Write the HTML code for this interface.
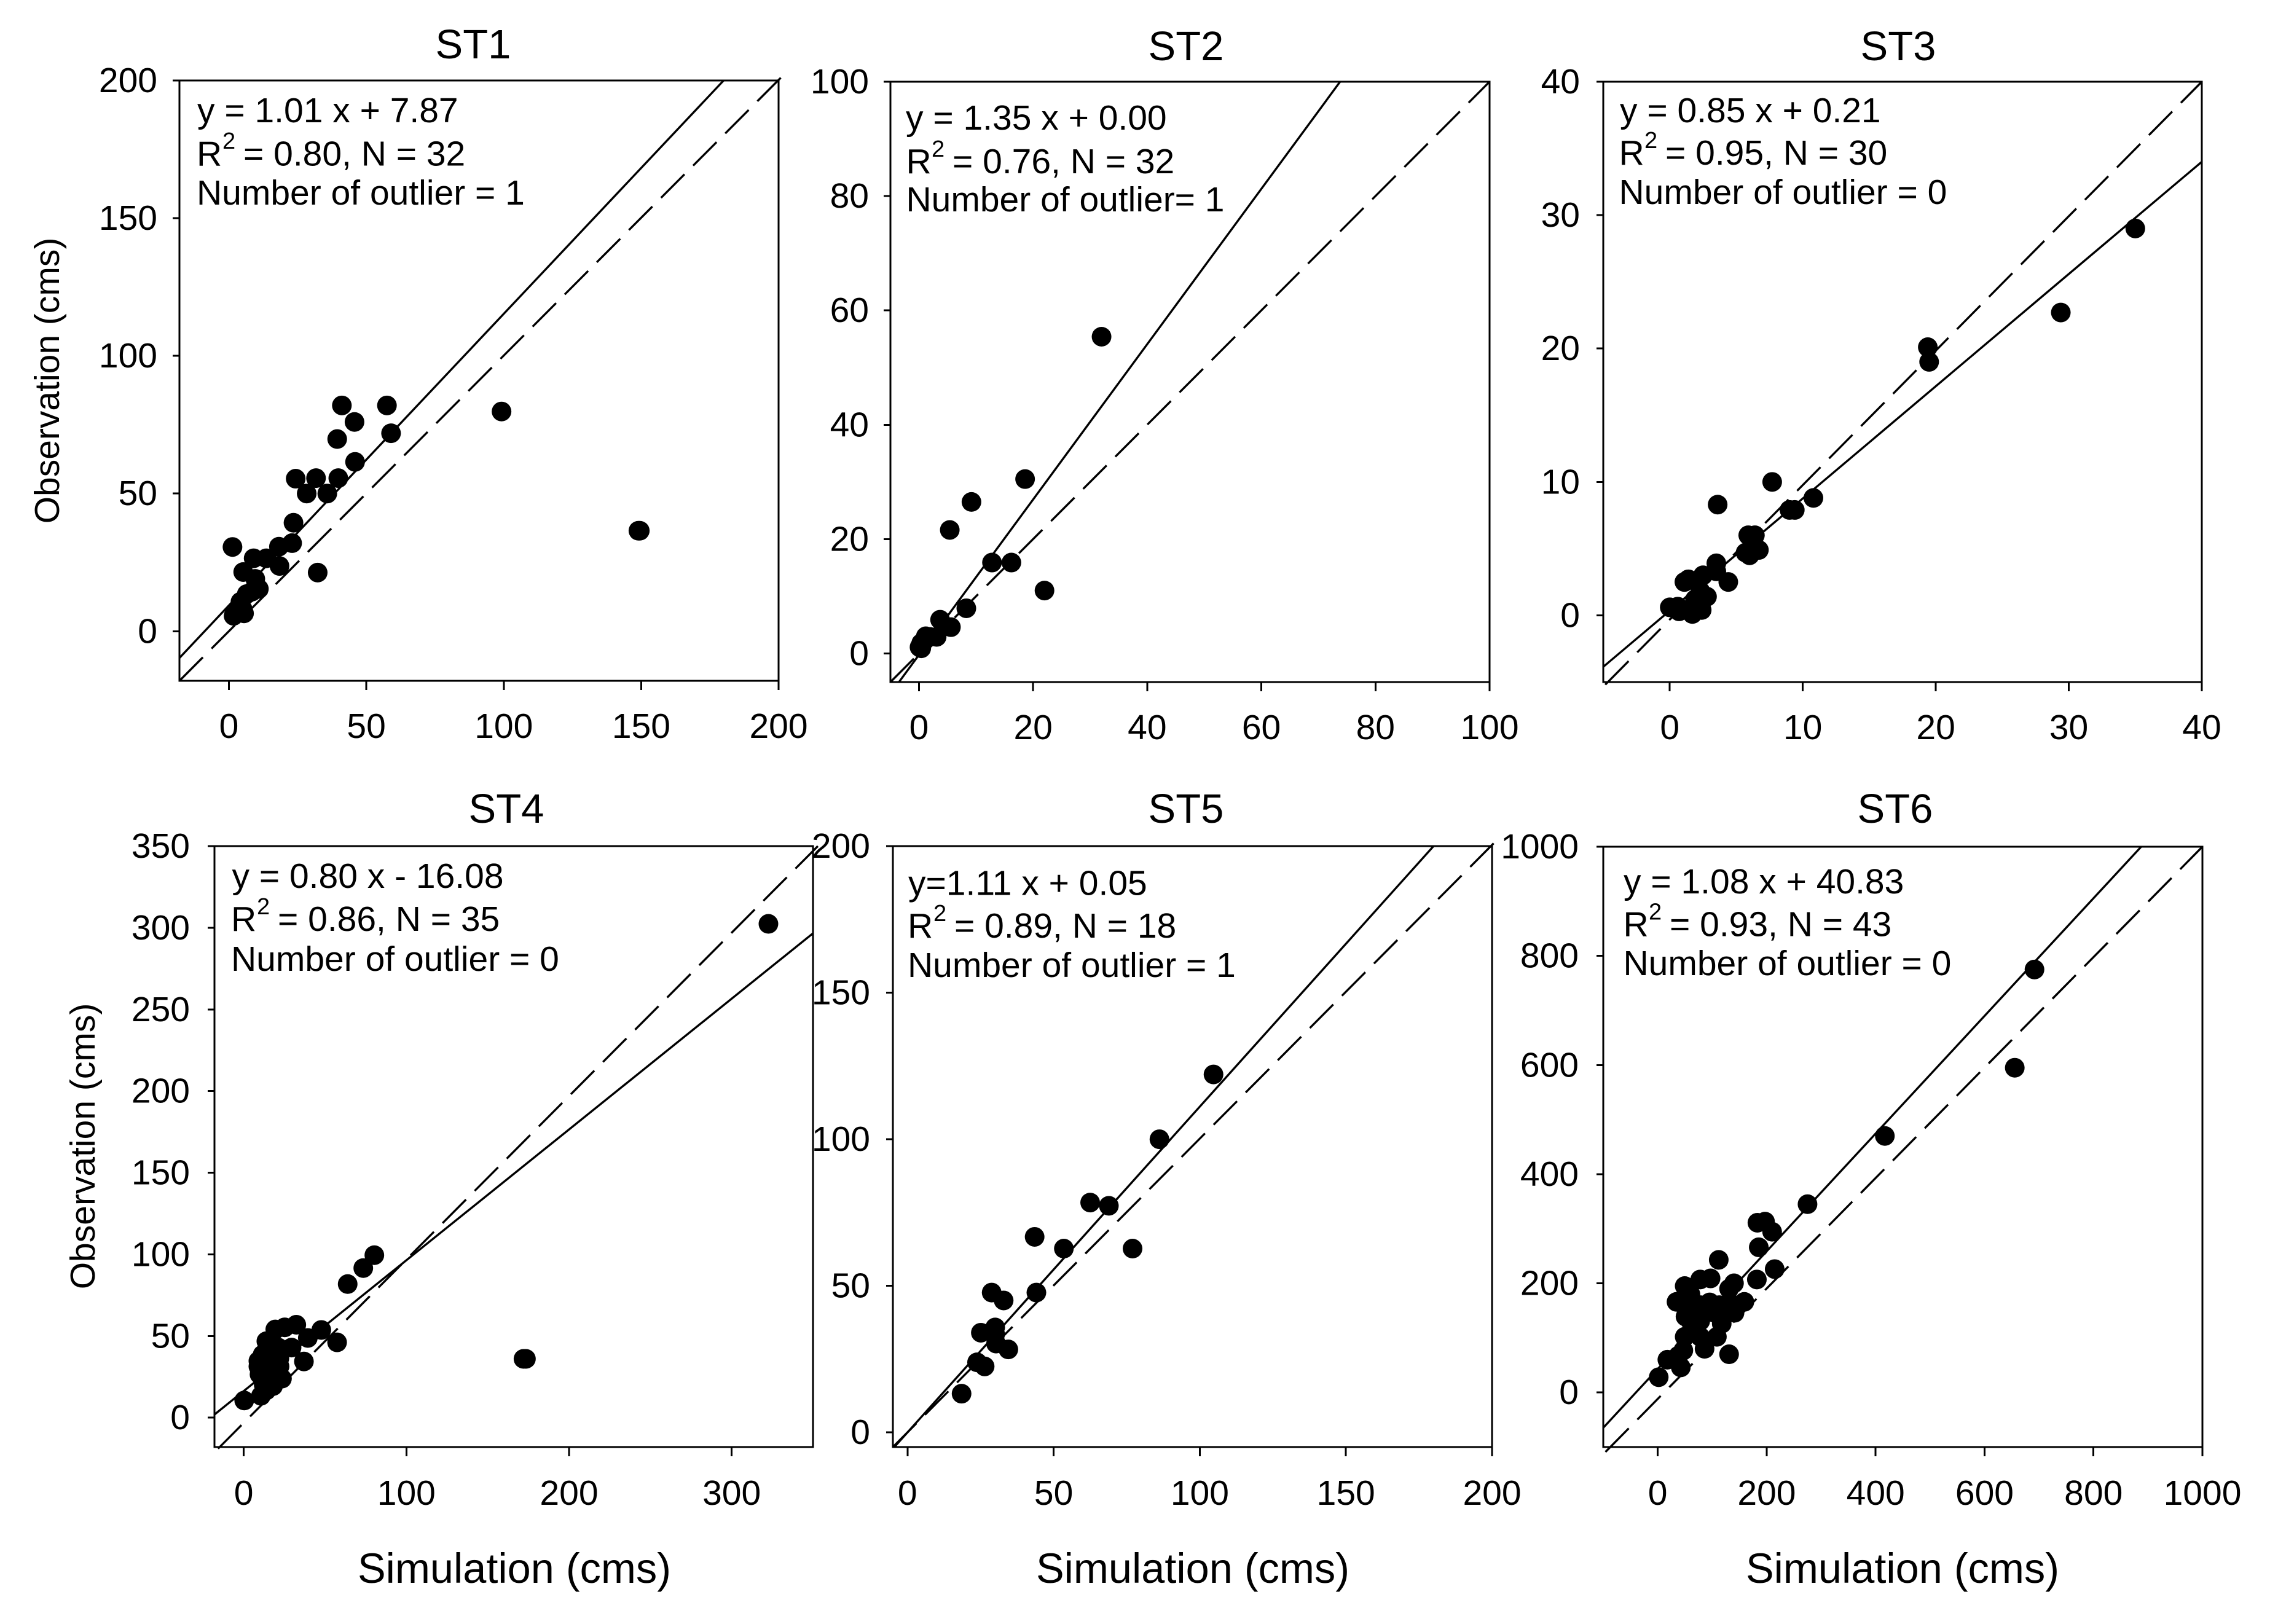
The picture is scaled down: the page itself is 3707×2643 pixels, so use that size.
<!DOCTYPE html>
<html lang="en">
<head>
<meta charset="utf-8">
<title>Simulation vs observation scatter plots ST1-ST6</title>
<style>
html,body{margin:0;padding:0;background:#fff;}
svg{display:block;}
text{font-family:"Liberation Sans",Arial,sans-serif;fill:#000;}
.tick{font-size:57px;}
.note{font-size:57px;}
.sup{font-size:38px;}
.title{font-size:67px;text-anchor:middle;}
.xtitle{font-size:68.5px;text-anchor:middle;}
.ytitle{font-size:57px;text-anchor:middle;}
</style>
</head>
<body>
<svg id="chart" xmlns="http://www.w3.org/2000/svg" width="3707" height="2643" viewBox="0 0 3707 2643">
<rect x="0" y="0" width="3707" height="2643" fill="#fff"/>

<g id="panel-st1">
<text class="title" x="770" y="95">ST1</text>
<text class="ytitle" transform="translate(96 619.5) rotate(-90)">Observation (cms)</text>
<text class="note" x="321" y="199">y = 1.01 x + 7.87</text>
<text class="note" x="320" y="269.5">R<tspan class="sup" x="362" y="242">2</tspan><tspan x="396" y="269.5">= 0.80, N = 32</tspan></text>
<text class="note" x="320" y="333">Number of outlier = 1</text>
</g>

<g id="panel-st2">
<text class="title" x="1930" y="98">ST2</text>
<text class="note" x="1474" y="211">y = 1.35 x + 0.00</text>
<text class="note" x="1474.5" y="282">R<tspan class="sup" x="1516" y="255">2</tspan><tspan x="1550" y="282">= 0.76, N = 32</tspan></text>
<text class="note" x="1474.5" y="344">Number of outlier= 1</text>
</g>

<g id="panel-st3">
<text class="title" x="3089" y="98">ST3</text>
<text class="note" x="2636" y="199">y = 0.85 x + 0.21</text>
<text class="note" x="2634.5" y="268">R<tspan class="sup" x="2676" y="241">2</tspan><tspan x="2710" y="268">= 0.95, N = 30</tspan></text>
<text class="note" x="2634.5" y="332">Number of outlier = 0</text>
</g>

<g id="panel-st4">
<text class="title" x="824" y="1339">ST4</text>
<text class="ytitle" transform="translate(154 1865.5) rotate(-90)">Observation (cms)</text>
<text class="xtitle" x="837" y="2576">Simulation (cms)</text>
<text class="note" x="377.5" y="1445">y = 0.80 x - 16.08</text>
<text class="note" x="376" y="1515">R<tspan class="sup" x="418" y="1488">2</tspan><tspan x="452" y="1515">= 0.86, N = 35</tspan></text>
<text class="note" x="376" y="1580">Number of outlier = 0</text>
</g>

<g id="panel-st5">
<text class="title" x="1930" y="1339">ST5</text>
<text class="xtitle" x="1941" y="2576">Simulation (cms)</text>
<text class="note" x="1478" y="1456.5">y=1.11 x + 0.05</text>
<text class="note" x="1477" y="1526">R<tspan class="sup" x="1519" y="1499">2</tspan><tspan x="1553" y="1526">= 0.89, N = 18</tspan></text>
<text class="note" x="1477" y="1590">Number of outlier = 1</text>
</g>

<g id="panel-st6">
<text class="title" x="3084" y="1339">ST6</text>
<text class="xtitle" x="3096" y="2576">Simulation (cms)</text>
<text class="note" x="2642" y="1454">y = 1.08 x + 40.83</text>
<text class="note" x="2641.5" y="1523.5">R<tspan class="sup" x="2683" y="1496.5">2</tspan><tspan x="2717" y="1523.5">= 0.93, N = 43</tspan></text>
<text class="note" x="2641.5" y="1587">Number of outlier = 0</text>
</g>
</svg>

<script>
// ---------- chart data ----------
const st1XTicks = [0, 50, 100, 150, 200];
const st1YTicks = [0, 50, 100, 150, 200];
const st1Sim = [1.3,5.2,9,13.6,18.2,23,18.4,32.3,23.5,28.3,35.8,24.3,31.7,39.8,45.9,39.4,45.7,41.1,57.5,59,99.2,149.5,149,10.9,9.6,8.4,4.2,6.5,5,5.5,1.7,3];
const st1Obs = [30.6,21.5,26.5,26.5,30.7,32,23.7,21.3,39.4,50,50,55.4,55.6,55.6,61.5,69.8,76,82,82,71.9,79.8,36.5,36.5,15.4,19,14.4,10.7,13.5,8,6.5,5.6,7];
const st1FitX = [-18, 180];
const st1FitY = [-9.7, 200];
const st1RefX = [-18, 200.8];
const st1RefY = [-18, 201];

const st2XTicks = [0, 20, 40, 60, 80, 100];
const st2YTicks = [0, 20, 40, 60, 80, 100];
const st2Sim = [32,18.6,9.2,5.4,12.8,16.2,22,8.3,3.7,5.6,3.1,1.2,0.4,0.4,0.1,1.1,1.9];
const st2Obs = [55.4,30.5,26.5,21.6,15.9,15.9,11,7.9,5.9,4.6,2.9,3,1.8,0.9,1.1,2.4,2.9];
const st2FitX = [-3.5, 73.8];
const st2FitY = [-5, 100];
const st2RefX = [-5, 100];
const st2RefY = [-5, 100];

const st3XTicks = [0, 10, 20, 30, 40];
const st3YTicks = [0, 10, 20, 30, 40];
const st3Sim = [35,29.4,19.4,19.5,7.7,3.6,10.8,9,9.4,5.9,6.4,5.7,6,6.7,3.5,4.4,2.5,1.4,1.1,2.8,1.9,2.3,0,0.6,0.7,1.7,2.4,1.7,3.5,2.1];
const st3Obs = [29,22.7,20.1,19,10,8.3,8.8,7.9,7.9,6,6,4.7,4.5,4.9,3.9,2.5,3,2.7,2.5,1.4,1.2,1.8,0.6,0.65,0.3,0.1,0.4,0.6,3.3,0.8];
const st3FitX = [-5, 40];
const st3FitY = [-3.86, 34];
const st3RefX = [-4.85, 40];
const st3RefY = [-5.2, 40];

const st4XTicks = [0, 100, 200, 300];
const st4YTicks = [0, 50, 100, 150, 200, 250, 300, 350];
const st4Sim = [322.6,173.5,172,80.3,73.5,63.9,57.4,47.7,39.4,37,32.3,25.2,19.4,29.4,21.3,13.9,9,11.6,22,23.5,18,10.6,0.3,9.7,15.5,9,13.9,18.7,12.3,13.9,17,21.9,10.6,11.6,15];
const st4Obs = [302.4,36,36,99.5,91.6,81.8,46.1,53.7,48.8,34.4,56.9,55.3,54,42.9,42.9,46.8,34.7,38.6,31.4,23.9,19.3,13.4,10.5,26.5,24.9,31.4,34.7,29.8,20,16.7,38,36.3,29.8,25,28];
const st4FitX = [-18, 350];
const st4FitY = [1.9, 296.6];
const st4RefX = [-15.8, 353];
const st4RefY = [-19, 350];

const st5XTicks = [0, 50, 100, 150, 200];
const st5YTicks = [0, 50, 100, 150, 200];
const st5Sim = [104.7,86.2,62.5,68.9,43.5,53.5,77,44.1,28.8,32.9,30,25.1,30.3,34.5,23.8,26.4,18.5,30];
const st5Obs = [122.1,100,78.4,77.3,66.7,62.7,62.7,47.7,47.7,45,35.8,34,30.3,28.3,23.9,22.5,13.2,33.5];
const st5FitX = [-4.5, 180];
const st5FitY = [-5, 200];
const st5RefX = [-5, 200.6];
const st5RefY = [-5, 201];

const st6XTicks = [0, 200, 400, 600, 800, 1000];
const st6YTicks = [0, 200, 400, 600, 800, 1000];
const st6Sim = [691.7,655.5,417,275,183,197,210,185.5,214.7,182,112,78,97,140,131,49.5,34.5,60,95.4,159,135,113,51,78,117.5,141,49.5,78,108.6,47,86,131,42.4,17.7,1.8,104,64.5,117.5,78,38,60,126,60];
const st6Obs = [775,595,470,345,311,313,294.5,266,226,207,243,207,209,200,190,195,166,165,165,166,162,160,139,131,126,146,102,102,102,77,80,70,46,60,28,146,146,146,160,67.5,131,160,180];
const st6FitX = [-100, 887.6];
const st6FitY = [-64.7, 1000];
const st6RefX = [-96, 1000];
const st6RefY = [-109, 1000];

// ---------- panel layout ----------
const SVG_NS = 'http://www.w3.org/2000/svg';
const panels = [
  {id:'st1', box:[292,131,1267,1108], xDom:[-18,200], yDom:[-18,200], labelRight:256, xBase:1201, xT:st1XTicks, yT:st1YTicks, sim:st1Sim, obs:st1Obs, fitX:st1FitX, fitY:st1FitY, refX:st1RefX, refY:st1RefY},
  {id:'st2', box:[1449,133,2424,1110], xDom:[-5,100], yDom:[-5,100], labelRight:1414, xBase:1203, xT:st2XTicks, yT:st2YTicks, sim:st2Sim, obs:st2Obs, fitX:st2FitX, fitY:st2FitY, refX:st2RefX, refY:st2RefY},
  {id:'st3', box:[2609,133,3583,1110], xDom:[-5,40], yDom:[-5,40], labelRight:2571, xBase:1203, xT:st3XTicks, yT:st3YTicks, sim:st3Sim, obs:st3Obs, fitX:st3FitX, fitY:st3FitY, refX:st3RefX, refY:st3RefY},
  {id:'st4', box:[349,1377,1323,2355], xDom:[-18,350], yDom:[-18,350], labelRight:309, xBase:2449, xT:st4XTicks, yT:st4YTicks, sim:st4Sim, obs:st4Obs, fitX:st4FitX, fitY:st4FitY, refX:st4RefX, refY:st4RefY},
  {id:'st5', box:[1453,1377,2428,2355], xDom:[-5,200], yDom:[-5,200], labelRight:1416, xBase:2449, xT:st5XTicks, yT:st5YTicks, sim:st5Sim, obs:st5Obs, fitX:st5FitX, fitY:st5FitY, refX:st5RefX, refY:st5RefY},
  {id:'st6', box:[2609,1378,3584,2355], xDom:[-100,1000], yDom:[-100,1000], labelRight:2569, xBase:2449, xT:st6XTicks, yT:st6YTicks, sim:st6Sim, obs:st6Obs, fitX:st6FitX, fitY:st6FitY, refX:st6RefX, refY:st6RefY}
];

panels.forEach(function (p) {
  const g = document.getElementById('panel-' + p.id);
  const x0 = p.box[0], y0 = p.box[1], x1 = p.box[2], y1 = p.box[3];
  const xScale = function (v) { return x0 + (v - p.xDom[0]) / (p.xDom[1] - p.xDom[0]) * (x1 - x0); };
  const yScale = function (v) { return y1 - (v - p.yDom[0]) / (p.yDom[1] - p.yDom[0]) * (y1 - y0); };

  // frame
  const frame = document.createElementNS(SVG_NS, 'rect');
  
  
  frame.setAttribute('x', x0);
  frame.setAttribute('y', y0);
  frame.setAttribute('width', x1 - x0);
  frame.setAttribute('height', y1 - y0);
  frame.setAttribute('fill', 'none');
  frame.setAttribute('stroke', '#000');
  frame.setAttribute('stroke-width', '3');
  frame.setAttribute('shape-rendering', 'crispEdges');
  g.appendChild(frame);

  // x axis ticks and labels
  p.xT.forEach(function (v) {
    const t = document.createElementNS(SVG_NS, 'line');
    
    
    t.setAttribute('x1', xScale(v));
    t.setAttribute('x2', xScale(v));
    t.setAttribute('y1', y1);
    t.setAttribute('y2', y1 + 15);
    t.setAttribute('stroke', '#000');
    t.setAttribute('stroke-width', '3');
    t.setAttribute('shape-rendering', 'crispEdges');
    g.appendChild(t);
    const l = document.createElementNS(SVG_NS, 'text');
    
    
    l.setAttribute('class', 'tick');
    l.setAttribute('text-anchor', 'middle');
    l.setAttribute('x', xScale(v));
    l.setAttribute('y', p.xBase);
    l.textContent = String(v);
    g.appendChild(l);
  });

  // y axis ticks and labels
  p.yT.forEach(function (v) {
    const t = document.createElementNS(SVG_NS, 'line');
    
    
    t.setAttribute('x1', x0 - 11);
    t.setAttribute('x2', x0);
    t.setAttribute('y1', yScale(v));
    t.setAttribute('y2', yScale(v));
    t.setAttribute('stroke', '#000');
    t.setAttribute('stroke-width', '3');
    t.setAttribute('shape-rendering', 'crispEdges');
    g.appendChild(t);
    const l = document.createElementNS(SVG_NS, 'text');
    
    
    l.setAttribute('class', 'tick');
    l.setAttribute('text-anchor', 'end');
    l.setAttribute('x', p.labelRight);
    l.setAttribute('y', yScale(v) + 19);
    l.textContent = String(v);
    g.appendChild(l);
  });

  // one-to-one dashed line
  const ref = document.createElementNS(SVG_NS, 'line');
  
  
  ref.setAttribute('x1', xScale(p.refX[0]));
  ref.setAttribute('y1', yScale(p.refY[0]));
  ref.setAttribute('x2', xScale(p.refX[1]));
  ref.setAttribute('y2', yScale(p.refY[1]));
  ref.setAttribute('stroke', '#000');
  ref.setAttribute('stroke-width', '3.4');
  ref.setAttribute('stroke-dasharray', '54 20');
  g.appendChild(ref);

  // regression line
  const fit = document.createElementNS(SVG_NS, 'line');
  
  
  fit.setAttribute('x1', xScale(p.fitX[0]));
  fit.setAttribute('y1', yScale(p.fitY[0]));
  fit.setAttribute('x2', xScale(p.fitX[1]));
  fit.setAttribute('y2', yScale(p.fitY[1]));
  fit.setAttribute('stroke', '#000');
  fit.setAttribute('stroke-width', '3.4');
  g.appendChild(fit);

  // points
  p.sim.forEach(function (v, i) {
    const c = document.createElementNS(SVG_NS, 'circle');
    
    
    c.setAttribute('cx', xScale(v));
    c.setAttribute('cy', yScale(p.obs[i]));
    c.setAttribute('r', '16');
    c.setAttribute('fill', '#000');
    g.appendChild(c);
  });
});
</script>
</body>
</html>
